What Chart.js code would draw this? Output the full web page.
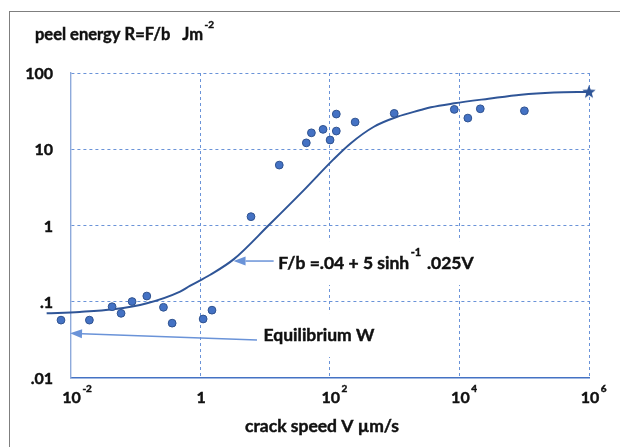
<!DOCTYPE html>
<html>
<head>
<meta charset="utf-8">
<script src="https://cdn.jsdelivr.net/npm/chart.js@4"></script>
<style>
  html, body { margin: 0; padding: 0; background: #fff; }
  #wrap { position: relative; width: 620px; height: 447px; overflow: hidden; }
  #frame { position: absolute; left: 9px; top: 11px; width: 700px; height: 600px;
           border-left: 1.5px solid #7f7f7f; border-top: 1.5px solid #7f7f7f; }
  canvas { position: absolute; left: 0; top: 0; }
</style>
</head>
<body>
<div id="wrap"><div id="frame"></div><canvas id="peel" width="620" height="447"></canvas></div>
<script>
/* Peel energy vs crack speed (log-log) */

// measured points
const speedPts  = [0.00711, 0.0195, 0.0437, 0.0601, 0.0889, 0.150, 0.271, 0.369, 1.11, 1.52,
                   6.08, 16.6, 43.4, 52.0, 78.7, 101, 126, 126, 246, 986,
                   8340, 13500, 21000, 100700];
const energyPts = [0.057, 0.057, 0.0855, 0.070, 0.100, 0.118, 0.084, 0.052, 0.059, 0.077,
                   1.30, 6.18, 12.1, 16.4, 18.2, 13.2, 17.3, 28.9, 22.7, 29.5,
                   33.3, 25.6, 33.9, 31.9];

// fitted curve
const curveSpeed  = [0.00427, 0.0138, 0.0457, 0.151, 0.490, 0.692, 1.41, 3.31, 11.5, 39.8,
                     115, 209, 479, 1096, 2512, 3630, 8320, 28200, 89100, 288000, 1000000];
const curveEnergy = [0.070, 0.073, 0.079, 0.095, 0.135, 0.160, 0.223, 0.36, 1.01, 2.90,
                     7.4, 11.9, 19.7, 26.6, 32.6, 35.5, 40, 46, 52, 55.5, 56.5];

// limiting value marker
const limitSpeed  = [1000000];
const limitEnergy = [56];

// axes
const xTickValues = [1e-2, 1, 1e2, 1e4, 1e6];
const xTickBase   = ['10', '1', '10', '10', '10'];
const xTickExp    = ['-2', '', '2', '4', '6'];
const yTickValues = [0.01, 0.1, 1, 10, 100];
const yTickLabels = ['.01', '.1', '1', '10', '100'];

const yTitle = 'peel energy R=F/b   Jm';
const yTitleExp = '-2';
const xTitle = 'crack speed V \u00b5m/s';

// annotations (data coordinates)
const noteFormula = { text: 'F/b =.04 + 5 sinh', sup: '-1', tail: ' .025V', at: [16, 0.32],
                      from: [13.6, 0.34], to: [3.27, 0.34] };
const noteEquil   = { text: 'Equilibrium W', sup: '', tail: '', at: [9.5, 0.0363],
                      from: [7.52, 0.0313], to: [0.0098, 0.0383] };

const FONT = '"Lato", "Open Sans", sans-serif';
const fBold = (s) => `bold ${s}px ${FONT}`;
const BLUE_DARK = '#2f5597';
const BLUE = '#4472c4';
const ARROW = '#6a93d8';

const toXY = (arr) => arr[0].map((v, i) => ({ x: v, y: arr[1][i] }));

function starImage(r) {
  const c = document.createElement('canvas');
  c.width = c.height = r * 2 + 2;
  const g = c.getContext('2d');
  g.translate(r + 1, r + 1);
  g.beginPath();
  for (let i = 0; i < 10; i++) {
    const rad = i % 2 ? r * 0.42 : r;
    const a = -Math.PI / 2 + i * Math.PI / 5;
    g.lineTo(rad * Math.cos(a), rad * Math.sin(a));
  }
  g.closePath();
  g.fillStyle = BLUE_DARK;
  g.fill();
  return c;
}

// heavier text, closer to the original bold face
function heavy(ctx, s, x, y) {
  ctx.fillText(s, x, y);
  ctx.lineWidth = 0.45;
  ctx.strokeStyle = ctx.fillStyle;
  ctx.strokeText(s, x, y);
}

// draws base text + superscript (+ tail); returns total width
function textWithSup(ctx, x, y, base, sup, tail, size, dry) {
  const ss = Math.round(size * 0.62);
  ctx.textAlign = 'left';
  ctx.textBaseline = 'middle';
  ctx.font = fBold(size);
  const w1 = ctx.measureText(base).width;
  ctx.font = fBold(ss);
  const w2 = sup ? ctx.measureText(sup).width + 3 : 0;
  ctx.font = fBold(size);
  const w3 = tail ? ctx.measureText(tail).width : 0;
  if (!dry) {
    heavy(ctx, base, x, y);
    if (sup) {
      ctx.font = fBold(ss);
      heavy(ctx, sup, x + w1 + 1.5, y - size * 0.6);
      ctx.font = fBold(size);
    }
    if (tail) heavy(ctx, tail, x + w1 + w2, y);
  }
  return w1 + w2 + w3;
}

function arrow(ctx, x1, y1, x2, y2) {
  const a = Math.atan2(y2 - y1, x2 - x1);
  const L = 12, W = 4.5;
  const bx = x2 - L * Math.cos(a), by = y2 - L * Math.sin(a);
  ctx.strokeStyle = ARROW;
  ctx.fillStyle = ARROW;
  ctx.lineWidth = 1.5;
  ctx.beginPath(); ctx.moveTo(x1, y1); ctx.lineTo(bx, by); ctx.stroke();
  ctx.beginPath();
  ctx.moveTo(x2, y2);
  ctx.lineTo(bx + W * Math.sin(a), by - W * Math.cos(a));
  ctx.lineTo(bx - W * Math.sin(a), by + W * Math.cos(a));
  ctx.closePath(); ctx.fill();
}

const NOTE_SIZE = 17.5;

const decor = {
  id: 'decor',
  beforeDatasetsDraw(chart) {
    const { ctx, scales: { x, y } } = chart;
    ctx.save();
    [noteFormula, noteEquil].forEach(n => {
      const px = x.getPixelForValue(n.at[0]), py = y.getPixelForValue(n.at[1]);
      const w = textWithSup(ctx, px, py, n.text, n.sup, n.tail, NOTE_SIZE, true);
      ctx.fillStyle = '#fff';
      ctx.fillRect(px - 4, py - 22, w + 8, 44);
    });
    ctx.restore();
    // let markers left of the y axis be drawn too
    chart._plotArea = chart.chartArea;
    chart.chartArea = { left: 0, top: 0, right: chart.width, bottom: chart.height,
                        width: chart.width, height: chart.height };
  },
  afterDatasetsDraw(chart) {
    if (chart._plotArea) chart.chartArea = chart._plotArea;
    const { ctx, scales: { x, y } } = chart;
    ctx.save();
    [noteFormula, noteEquil].forEach(n => {
      arrow(ctx, x.getPixelForValue(n.from[0]), y.getPixelForValue(n.from[1]),
                 x.getPixelForValue(n.to[0]), y.getPixelForValue(n.to[1]));
      ctx.fillStyle = '#111';
      textWithSup(ctx, x.getPixelForValue(n.at[0]), y.getPixelForValue(n.at[1]), n.text, n.sup, n.tail, NOTE_SIZE, false);
    });
    ctx.restore();
  },
  afterDraw(chart) {
    const { ctx, scales: { x, y } } = chart;
    ctx.save();
    ctx.fillStyle = '#111';
    // y tick labels
    ctx.font = fBold(16);
    ctx.textAlign = 'right';
    ctx.textBaseline = 'middle';
    yTickValues.forEach((v, i) => heavy(ctx, yTickLabels[i], 53, y.getPixelForValue(v) + 1));
    // x tick labels
    xTickValues.forEach((v, i) => {
      const px = x.getPixelForValue(v);
      ctx.font = fBold(16);
      const w = ctx.measureText(xTickBase[i]).width;
      textWithSup(ctx, px - w / 2 + 1, 398, xTickBase[i], xTickExp[i], '', 16, false);
    });
    // titles
    textWithSup(ctx, 35, 35, yTitle, yTitleExp, '', 16.5, false);
    ctx.font = fBold(17.5);
    ctx.textAlign = 'center';
    heavy(ctx, xTitle, 322, 426);
    ctx.restore();
  }
};

const gridColor = (ctx) => ctx.index === 0 ? 'rgba(0,0,0,0)' : '#6a93d8';

new Chart(document.getElementById('peel').getContext('2d'), {
  type: 'scatter',
  data: {
    datasets: [
      { label: 'fit', data: toXY([curveSpeed, curveEnergy]), showLine: true, borderColor: BLUE_DARK,
        borderWidth: 2, pointRadius: 0, cubicInterpolationMode: 'monotone', clip: false, order: 2 },
      { label: 'measured', data: toXY([speedPts, energyPts]), pointRadius: 3.9, pointBackgroundColor: BLUE,
        pointBorderColor: '#2f528f', pointBorderWidth: 1, clip: false, order: 1 },
      { label: 'limit', data: toXY([limitSpeed, limitEnergy]), pointStyle: starImage(7), clip: false, order: 0 }
    ]
  },
  options: {
    responsive: false,
    animation: false,
    layout: { padding: { left: 70.6, top: 73, right: 31, bottom: 69.3 } },
    plugins: { legend: { display: false }, tooltip: { enabled: false } },
    scales: {
      x: {
        type: 'logarithmic', min: 1e-2, max: 1e6,
        afterBuildTicks: (s) => { s.ticks = xTickValues.map(v => ({ value: v })); },
        ticks: { display: false },
        grid: { color: gridColor, lineWidth: 1, drawTicks: false },
        border: { color: BLUE, width: 1.4, dash: [3, 3] }
      },
      y: {
        type: 'logarithmic', min: 0.01, max: 100,
        afterBuildTicks: (s) => { s.ticks = yTickValues.map(v => ({ value: v })); },
        ticks: { display: false },
        grid: { color: gridColor, lineWidth: 1, drawTicks: false },
        border: { color: '#8eaadb', width: 1.4, dash: [3, 3] }
      }
    }
  },
  plugins: [decor]
});
</script>
</body>
</html>
